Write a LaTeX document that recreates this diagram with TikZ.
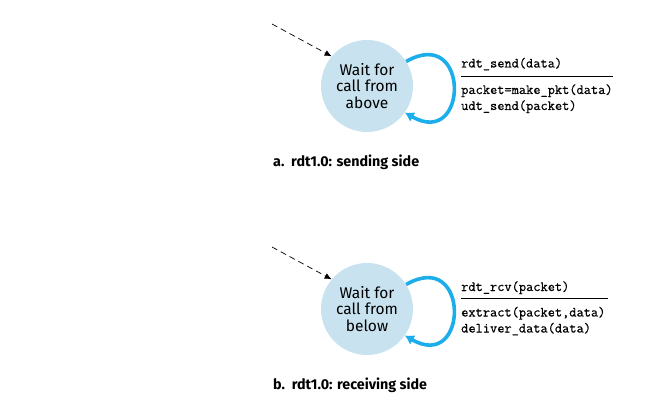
\documentclass[tikz,border=0pt]{standalone}
\usepackage{fontspec}
\setmainfont{Fira Sans}
\newfontfamily\codefont{Latin Modern Mono}[FakeBold=0.5]
\usetikzlibrary{arrows.meta}
\definecolor{statefill}{HTML}{C8E3EF}
\definecolor{loopblue}{HTML}{1BAEEA}
\begin{document}
\begin{tikzpicture}[x=1pt,y=-1pt,
  state/.style={circle,fill=statefill,minimum size=92pt,inner sep=0pt,
    align=center,font=\fontsize{15.5}{16.8}\selectfont},
  selfloop/.style={loopblue,line width=3.6pt,-{Latex[length=9pt,width=11pt]}},
  initarrow/.style={black,line width=0.7pt,dash pattern=on 6pt off 4pt,-{Latex[length=7pt,width=6pt]}},
  codetext/.style={anchor=base west,inner sep=0pt,font=\fontsize{14}{16}\codefont},
  caption/.style={anchor=base west,inner sep=0pt,font=\fontsize{14.3}{16}\selectfont\bfseries},
  rule/.style={line width=0.8pt,black}]
\useasboundingbox (0,0) rectangle (656,409);
% sending side
\node[state] (c1) at (367,86) {Wait for\\call from\\above};
\coordinate (s1) at (272,24);
\draw[initarrow] (s1) -- (c1.140);
\draw[selfloop] (c1.32) .. controls +(64,-37) and +(64,37) .. (c1.-35);
\node[codetext] (ev1) at (461,67.5) {rdt\_send(data)};
\coordinate (r1a) at (461,76);
\coordinate (r1b) at (613,76);
\draw[rule] (r1a) -- (r1b);
\node[codetext] (ac1a) at (461,94) {packet=make\_pkt(data)};
\node[codetext] (ac1b) at (461,110) {udt\_send(packet)};
\node[caption] (cap1) at (273,166.5) {a.\ \ rdt1.0: sending side};
% receiving side
\node[state] (c2) at (367,309) {Wait for\\call from\\below};
\coordinate (s2) at (272,247);
\draw[initarrow] (s2) -- (c2.140);
\draw[selfloop] (c2.32) .. controls +(64,-37) and +(64,37) .. (c2.-35);
\node[codetext] (ev2) at (461,291) {rdt\_rcv(packet)};
\coordinate (r2a) at (461,298.5);
\coordinate (r2b) at (608,298.5);
\draw[rule] (r2a) -- (r2b);
\node[codetext] (ac2a) at (461,316.5) {extract(packet,data)};
\node[codetext] (ac2b) at (461,332.5) {deliver\_data(data)};
\node[caption] (cap2) at (273,389) {b.\ \ rdt1.0: receiving side};
\end{tikzpicture}
\end{document}
